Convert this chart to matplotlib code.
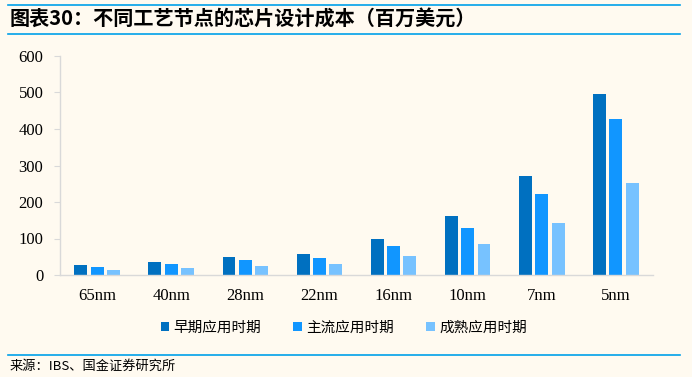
import matplotlib
matplotlib.use('Agg')
import matplotlib.pyplot as plt
import numpy as np

nodes = ['65nm', '40nm', '28nm', '22nm', '16nm', '10nm', '7nm', '5nm']
early = [27, 36, 49, 58, 99, 162, 271, 496]
mainstream = [22, 30, 41, 47, 79, 129, 222, 427]
mature = [14, 19, 25, 30, 52, 85, 142, 252]
series_names = ['早期应用时期', '主流应用时期', '成熟应用时期']
colors = ['#0070C0', '#1196FF', '#77C2FF']

bg = '#FFFAF0'
cjk = ['Noto Sans CJK SC', 'DejaVu Sans']

fig = plt.figure(figsize=(6.92, 3.77), dpi=100, facecolor=bg)
ax = fig.add_axes([60/692, 102/377, 593/692, 219/377], facecolor=bg)

x = np.arange(len(nodes))
w = 0.175
off = 0.22
for i, (vals, name, c) in enumerate(zip([early, mainstream, mature], series_names, colors)):
    ax.bar(x + (i - 1) * off, vals, w, color=c, label=name)

ax.set_xlim(-0.5, len(nodes) - 0.5)
ax.set_ylim(0, 600)
ax.set_yticks(range(0, 601, 100))
ax.set_xticks(x)
ax.set_xticklabels(nodes, fontfamily='Liberation Serif', fontsize=12)
for lab in ax.get_yticklabels():
    lab.set_fontfamily('Liberation Serif')
    lab.set_fontsize(12)
ax.tick_params(axis='x', length=0, pad=9)
ax.tick_params(axis='y', length=4, color='#D9D9D9', pad=8)
for s in ['top', 'right']:
    ax.spines[s].set_visible(False)
for s in ['left', 'bottom']:
    ax.spines[s].set_color('#D9D9D9')
    ax.spines[s].set_linewidth(1)

fig.legend(loc='center', bbox_to_anchor=(0.497, 1 - 328/377), ncol=3, frameon=False,
           prop={'family': cjk, 'size': 10.5}, handlelength=0.6, handleheight=0.6,
           handletextpad=0.3, columnspacing=2.2)

# title + rules
line_c = '#00A0E9'
fig.add_artist(plt.Line2D([8/692, 680/692], [1 - 5/377, 1 - 5/377], color=line_c, lw=1.2))
fig.add_artist(plt.Line2D([8/692, 680/692], [1 - 34/377, 1 - 34/377], color=line_c, lw=1.2))
fig.text(10/692, 1 - 19/377, '图表30：不同工艺节点的芯片设计成本（百万美元）', fontfamily=cjk,
         fontsize=14.5, fontweight='bold', va='center', ha='left')
fig.add_artist(plt.Line2D([8/692, 680/692], [1 - 355/377, 1 - 355/377], color=line_c, lw=1.2))
fig.text(10/692, 1 - 366/377, '来源：IBS、国金证券研究所', fontfamily=cjk,
         fontsize=9.5, va='center', ha='left')

fig.savefig('out.png', dpi=100, facecolor=bg)
